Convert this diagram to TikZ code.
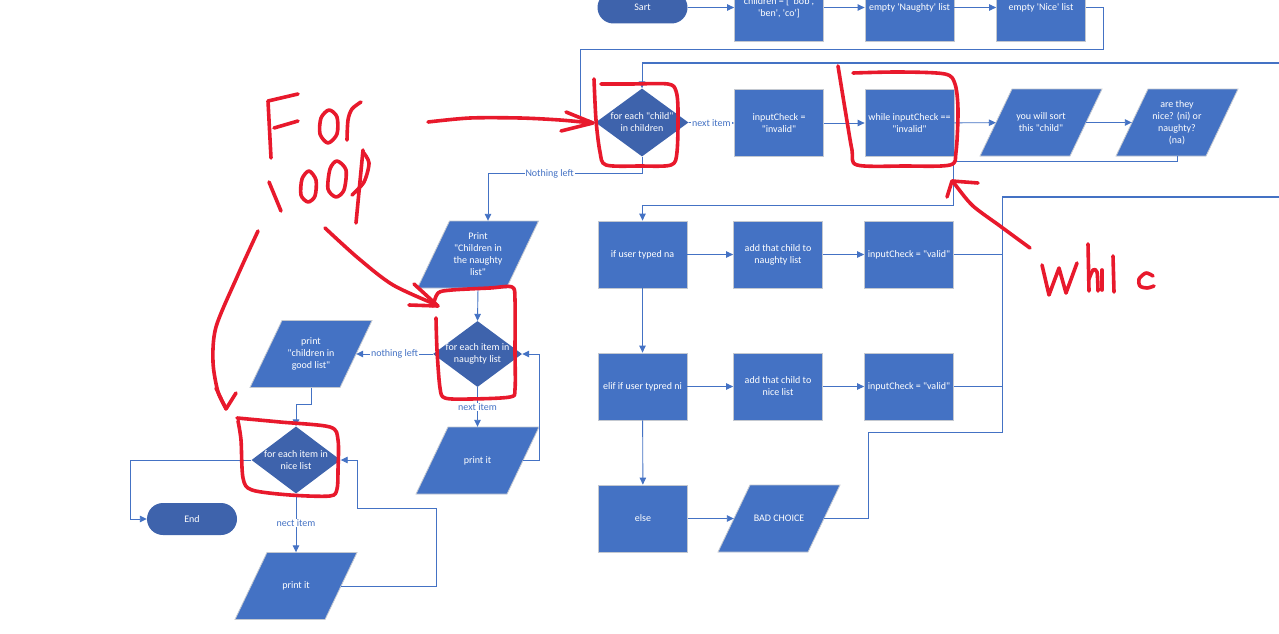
\documentclass[tikz,border=0pt]{standalone}
\usepackage{fontspec}
\setmainfont{Carlito}[Ligatures=TeXOff]
\usetikzlibrary{shapes.geometric,arrows.meta}
\definecolor{boxblue}{HTML}{4472C4}
\definecolor{decblue}{HTML}{3E63AC}
\definecolor{edgegray}{HTML}{C3C8D0}
\definecolor{lineblue}{HTML}{4472C4}
\definecolor{inkred}{HTML}{E8192C}
% parallelogram (input/output) box: name, x, y, width at mid height, text
\newcommand\ioshape[5]{%
  \path[iofill] (#2-#4/2-16,#3+33.5) -- (#2-#4/2+16,#3-33.5) -- (#2+#4/2+16,#3-33.5) -- (#2+#4/2-16,#3+33.5) -- cycle;
  \node[iot, minimum width=#4pt] (#1) at (#2,#3) {#5};}
\begin{document}
\begin{tikzpicture}[x=1pt,y=-1pt,
  font=\fontsize{10}{12}\selectfont,
  proc/.style={rectangle, fill=boxblue, draw=edgegray, line width=0.8pt, minimum width=89pt, minimum height=67pt, inner sep=0pt, text=white, align=center},
  dec/.style={diamond, fill=decblue, draw=none, minimum width=90pt, minimum height=67pt, inner sep=0pt},
  term/.style={rectangle, rounded corners=16pt, fill=decblue, minimum width=90pt, minimum height=32pt, inner sep=0pt, text=white},
  iofill/.style={fill=boxblue, draw=edgegray, line width=0.8pt},
  iot/.style={rectangle, minimum height=67pt, inner sep=0pt, text=white, align=center},
  txt/.style={text=white, align=center, inner sep=0pt},
  conn/.style={draw=lineblue, line width=0.9pt},
  arr/.style={conn, -{Triangle[length=7pt,width=6.5pt]}},
  lbl/.style={fill=white, text=lineblue, inner sep=1pt},
  ink/.style={draw=inkred, line width=3.6pt, line cap=round, line join=round},
  thickc/.style={draw=lineblue, line width=1.8pt}
]
\useasboundingbox (0,0) rectangle (1279,634);
\clip (0,0) rectangle (1279,634);
\fill[white] (0,0) rectangle (1279,634);

% ---------- top row ----------
\node[term] (sart) at (642.5,7.5) {Sart};
\node[proc] (ch) at (779,7.5) {children = [ 'bob',\\'ben', 'co']};
\node[proc] (eN) at (909.5,7.5) {empty 'Naughty' list};
\node[proc] (eNi) at (1041,7.5) {empty 'Nice' list};

% ---------- second row ----------
\node[dec, minimum width=93pt, minimum height=68pt] (fc) at (642,122.5) {};
\node[txt] (fct) at (fc) {for each "child"\\in children};
\node[proc] (ic) at (779,123) {inputCheck =\\"invalid"};
\node[proc] (wh) at (909.5,123) {while inputCheck ==\\"invalid"};
\ioshape{so}{1041}{122.5}{90}{you will sort\\this "child"}
\ioshape{ar}{1177}{122.5}{90}{are they\\nice? (ni) or\\naughty?\\(na)}

% ---------- right grid ----------
\node[proc] (na) at (642.5,254.5) {if user typed na};
\node[proc] (ac1) at (778,254.5) {add that child to\\naughty list};
\node[proc] (v1) at (909,254.5) {inputCheck = "valid"};
\node[proc] (ni) at (642.5,386.5) {elif if user typred ni};
\node[proc] (ac2) at (778,386.5) {add that child to\\nice list};
\node[proc] (v2) at (909,386.5) {inputCheck = "valid"};
\node[proc] (el) at (643,518.5) {else};
\ioshape{bc}{779}{518.5}{90}{BAD CHOICE}

% ---------- left part ----------
\ioshape{pn}{478}{254.5}{89}{Print\\"Children in\\the naughty\\list"}
\node[dec, minimum width=89pt, minimum height=66pt] (nd) at (477.5,354) {};
\node[txt] (ndt) at (nd) {for each item in\\naughty list};
\ioshape{pi1}{477.5}{460.5}{91}{print it}
\ioshape{gl}{311}{354}{90}{print\\"children in\\good list"}
\node[dec, minimum width=89pt, minimum height=67pt] (nl) at (296,460) {};
\node[txt] (nlt) at (nl) {for each item in\\nice list};
\ioshape{pi2}{296}{586}{90}{print it}
\node[term] (en) at (192,519) {End};

% ---------- connectors ----------
\coordinate (offA) at (1295,63);
\coordinate (offB) at (1295,197);
\coordinate (jB) at (1002,197);

\draw[arr] (sart) -- (ch);
\draw[arr] (ch) -- (eN);
\draw[arr] (eN) -- (eNi);
\draw[arr] (eNi.east) -- (1103,7.5) -- (1103,49) -- (580,49) |- (fc.west);
\draw[thickc] (offA) -- (fc.north |- offA);
\draw[arr] (fc.north |- offA) -- (fc.north);
\draw[arr] (fc.east) -- node[lbl]{next item} (ic.west);
\draw[arr] (ic) -- (wh);
\draw[arr] (wh) -- (so);
\draw[arr] (so) -- (ar);
\draw[arr] (ar.south) -- ++(0,5.5) -| (953,205) -| (na.north);
\draw[arr] (fc.south) -- ++(0,17) -| node[lbl,pos=0.3]{Nothing left} ([xshift=10pt]pn.north);

\draw[arr] (na) -- (ac1);
\draw[arr] (ac1) -- (v1);
\draw[arr] (na) -- (ni);
\draw[arr] (ni) -- (ac2);
\draw[arr] (ac2) -- (v2);
\draw[arr] (ni) -- (el);
\draw[arr] (el) -- (bc);
\draw[conn] (v1) -- (v1 -| jB);
\draw[conn] (v2) -- (v2 -| jB);
\draw[conn] (bc) -- (868,518.5) |- (1002,432) -- (jB);
\draw[thickc] (jB) -- (offB);

\draw[arr] (pn.south) -- (nd.north);
\draw[arr] (nd.west) -- node[lbl]{nothing left} (gl);
\draw[arr] (nd.south) -- node[lbl]{next item} (pi1.north);
\draw[arr] (pi1) -- (539,460.5) |- (nd.east);
\draw[arr] (gl.south) -- ++(0,17) -| (nl.north);
\draw[arr] (nl.west) -- (130,460) |- (en.west);
\draw[arr] (nl.south) -- node[lbl]{nect item} (pi2.north);
\draw[arr] (pi2) -- (436,586) |- (357,508) |- (nl.east);

% ---------- red handwriting ----------
\draw[ink] plot[smooth,tension=0.5] coordinates {(594,79) (596,120) (600,152) (606,165) (640,166) (671,165) (677,152) (678,110) (676,91) (668,84) (630,84) (601,84)};
\draw[ink] plot[smooth,tension=0.5] coordinates {(838,66) (846,115) (852,150) (857,165) (905,166) (950,165) (956,152) (958,110) (955,84) (945,74) (900,72) (853,73)};
\draw[ink] plot[smooth] coordinates {(428,122) (470,118) (520,118) (560,120) (592,123)};
\draw[ink] (566,112) -- (593,123) -- (561,131);
% For
\draw[ink] (298,94) -- (268,101) -- (271,158);
\draw[ink] (274,128) -- (298,121);
\draw[ink] plot[smooth cycle] coordinates {(329,110) (337,117) (337,134) (328,143) (320,134) (321,118)};
\draw[ink] plot[smooth] coordinates {(347,140) (348,120) (352,109) (361,102)};
% loop
\draw[ink] (269,182) -- (281,211);
\draw[ink] plot[smooth cycle] coordinates {(309,171) (316,180) (315,196) (308,202) (301,195) (302,179)};
\draw[ink] plot[smooth cycle] coordinates {(337,161) (346,170) (344,190) (336,197) (328,189) (330,169)};
\draw[ink] (363,150) -- (356,223);
\draw[ink] plot[smooth] coordinates {(363,152) (369,163) (364,182) (352,195)};
% arrows from loop
\draw[ink] plot[smooth] coordinates {(325,228) (358,258) (393,285) (437,305)};
\draw[ink] (414,284) -- (438,306) -- (409,305);
\draw[ink] plot[smooth] coordinates {(258,231) (237,277) (216,327) (213,362) (218,392) (226,408)};
\draw[ink] (216,388) -- (226,409) -- (236,393);
% boxes around inner loops
\draw[ink] plot[smooth,tension=0.5] coordinates {(433,306) (438,293) (452,290) (490,288) (512,287) (515,300) (515,350) (515,389) (510,397) (470,399) (445,398) (440,388) (437,350) (436,318)};
\draw[ink] plot[smooth,tension=0.5] coordinates {(237,418) (280,422) (330,427) (338,440) (338,470) (337,489) (330,496) (290,495) (252,490) (243,478) (241,440) (238,421)};
% while arrow and text
\draw[ink] plot[smooth] coordinates {(1030,248) (1000,226) (973,206) (957,187) (953,181)};
\draw[ink] (947,197) -- (952,181) -- (978,183);
\draw[ink] (1042,265) -- (1049,295) -- (1059,268) -- (1066,293) -- (1077,263);
\draw[ink] (1088,244) -- (1089,291);
\draw[ink] plot[smooth] coordinates {(1089,279) (1093,270) (1097,272) (1098,291)};
\draw[ink] (1102,270) -- (1102,290);
\draw[ink] (1113,256) -- (1114,292);
\draw[ink] plot[smooth] coordinates {(1153,276) (1146,273) (1139,279) (1140,286) (1147,288) (1154,286)};
\end{tikzpicture}
\end{document}
